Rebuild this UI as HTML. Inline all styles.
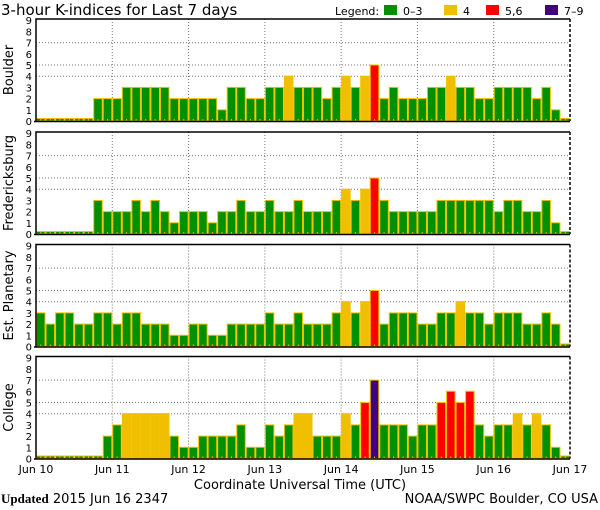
<!DOCTYPE html>
<html><head><meta charset="utf-8"><style>
body{margin:0;background:#fff;width:600px;height:510px;overflow:hidden}
svg{display:block;font-family:"DejaVu Sans","Liberation Sans",sans-serif}
</style></head><body>
<svg id="chart" width="600" height="510">
<text x="1" y="15" font-size="15" fill="#000">3-hour K-indices for Last 7 days</text>
<g font-size="11">
<text x="335" y="15">Legend:</text>
<rect x="384" y="5" width="13" height="10" fill="#009000"/>
<text x="403" y="15">0–3</text>
<rect x="444" y="5" width="13" height="10" fill="#f0c000"/>
<text x="463" y="15">4</text>
<rect x="486" y="5" width="13" height="10" fill="#ff0000"/>
<text x="505" y="15">5,6</text>
<rect x="545" y="5" width="13" height="10" fill="#400080"/>
<text x="564" y="15">7–9</text>
</g>
<g id="panels"></g>
<text x="300" y="489" font-size="13" text-anchor="middle">Coordinate Universal Time (UTC)</text>
<text x="1" y="503" font-size="13"><tspan font-family="Liberation Serif,serif" font-weight="bold">Updated</tspan> 2015 Jun 16 2347</text>
<text x="598" y="503" font-size="13" text-anchor="end">NOAA/SWPC Boulder, CO USA</text>
</svg>
<script>
const stations = ["Boulder","Fredericksburg","Est. Planetary","College"];
const boulder = [0,0,0,0,0,0,2,2,2,3,3,3,3,3,2,2,2,2,2,1,3,3,2,2,3,3,4,3,3,3,2,3,4,3,4,5,2,3,2,2,2,3,3,4,3,3,2,2,3,3,3,3,2,3,1,0];
const fredericksburg = [0,0,0,0,0,0,3,2,2,2,3,2,3,2,1,2,2,2,1,2,2,3,2,2,3,2,2,3,2,2,2,3,4,3,4,5,3,2,2,2,2,2,3,3,3,3,3,3,2,3,3,2,2,3,1,0];
const planetary = [3,2,3,3,2,2,3,3,2,3,3,2,2,2,1,1,2,2,1,1,2,2,2,2,3,2,2,3,2,2,2,3,4,3,4,5,2,3,3,3,2,2,3,3,4,3,3,2,3,3,3,2,2,3,2,0];
const college = [0,0,0,0,0,0,0,2,3,4,4,4,4,4,2,1,1,2,2,2,2,3,1,1,3,2,3,4,4,2,2,2,4,3,5,7,3,3,3,2,3,3,5,6,5,6,3,2,3,3,4,3,4,3,1,0];
const dayLabels = ["Jun 10","Jun 11","Jun 12","Jun 13","Jun 14","Jun 15","Jun 16","Jun 17"];
const yTicks = [0,1,2,3,4,5,6,7,8,9];
const gridLevels = [4,5,7];
const series = [boulder,fredericksburg,planetary,college];

const NS="http://www.w3.org/2000/svg";
const X0=36, X1=570, N=56, DAYS=7;
const tops=[19,132,244.5,356.5], PH=102, UNIT=11.2;
const xs = i => X0 + i*(X1-X0)/N;
const xd = d => X0 + d*(X1-X0)/DAYS;
function color(v){return v<=3?"#009000":v==4?"#f0c000":v<=6?"#ff0000":"#400080";}
function mk(tag,attrs,parent){const e=document.createElementNS(NS,tag);for(const k in attrs)e.setAttribute(k,attrs[k]);parent.appendChild(e);return e;}
const root=document.getElementById("panels");
series.forEach((vals,p)=>{
  const top=tops[p], base=top+PH;
  const ys = v => base - v*UNIT;
  const g=mk("g",{},root);
  
  
  gridLevels.forEach(l=>{
    const ln=mk("line",{x1:X0,x2:X1,y1:ys(l),y2:ys(l),stroke:"#777","stroke-dasharray":"1,2"},g);
    
    
  });
  for(let d=1;d<DAYS;d++){
    const ln=mk("line",{x1:xd(d),x2:xd(d),y1:top,y2:base,stroke:"#777","stroke-dasharray":"1,2"},g);
    
    
  }
  vals.forEach((v,i)=>{
    const x=xs(i), w=xs(i+1)-xs(i);
    const h=v==0?2.5:v*UNIT;
    const r=mk("rect",{x:x+0.5,y:base-h,width:w-1,height:h,fill:color(v),stroke:"#f0c000","stroke-width":1},g);
    
    
    const t=mk("rect",{x:x+w/2-0.5,y:base-2,width:1,height:2,fill:"#f0c000"},g);
    
    
  });
  const f1=mk("path",{d:`M${X0} ${base}V${top}H${X1}M${X0-2} ${base+0.5}H${X1}`,stroke:"#000","stroke-width":1.5,fill:"none"},g);
  
  
  const f2=mk("line",{x1:X1,x2:X1,y1:top,y2:base,stroke:"#000","stroke-width":1.5,"stroke-dasharray":"3,2"},g);
  
  
  yTicks.forEach(v=>{
    const t=mk("text",{x:32,y:ys(v)+4,"font-size":10,"text-anchor":"end"},g);
    t.textContent=v;
    
    
  });
  const cy=top+PH/2;
  const tt=mk("text",{x:13,y:cy,"font-size":13,"text-anchor":"middle",transform:`rotate(-90 13 ${cy})`},g);
  tt.textContent=stations[p];
  
  
});
dayLabels.forEach((l,d)=>{
  const t=mk("text",{x:xd(d),y:473,"font-size":11,"text-anchor":"middle"},document.getElementById("chart"));
  t.textContent=l;
  
  
});
</script>
</body></html>
